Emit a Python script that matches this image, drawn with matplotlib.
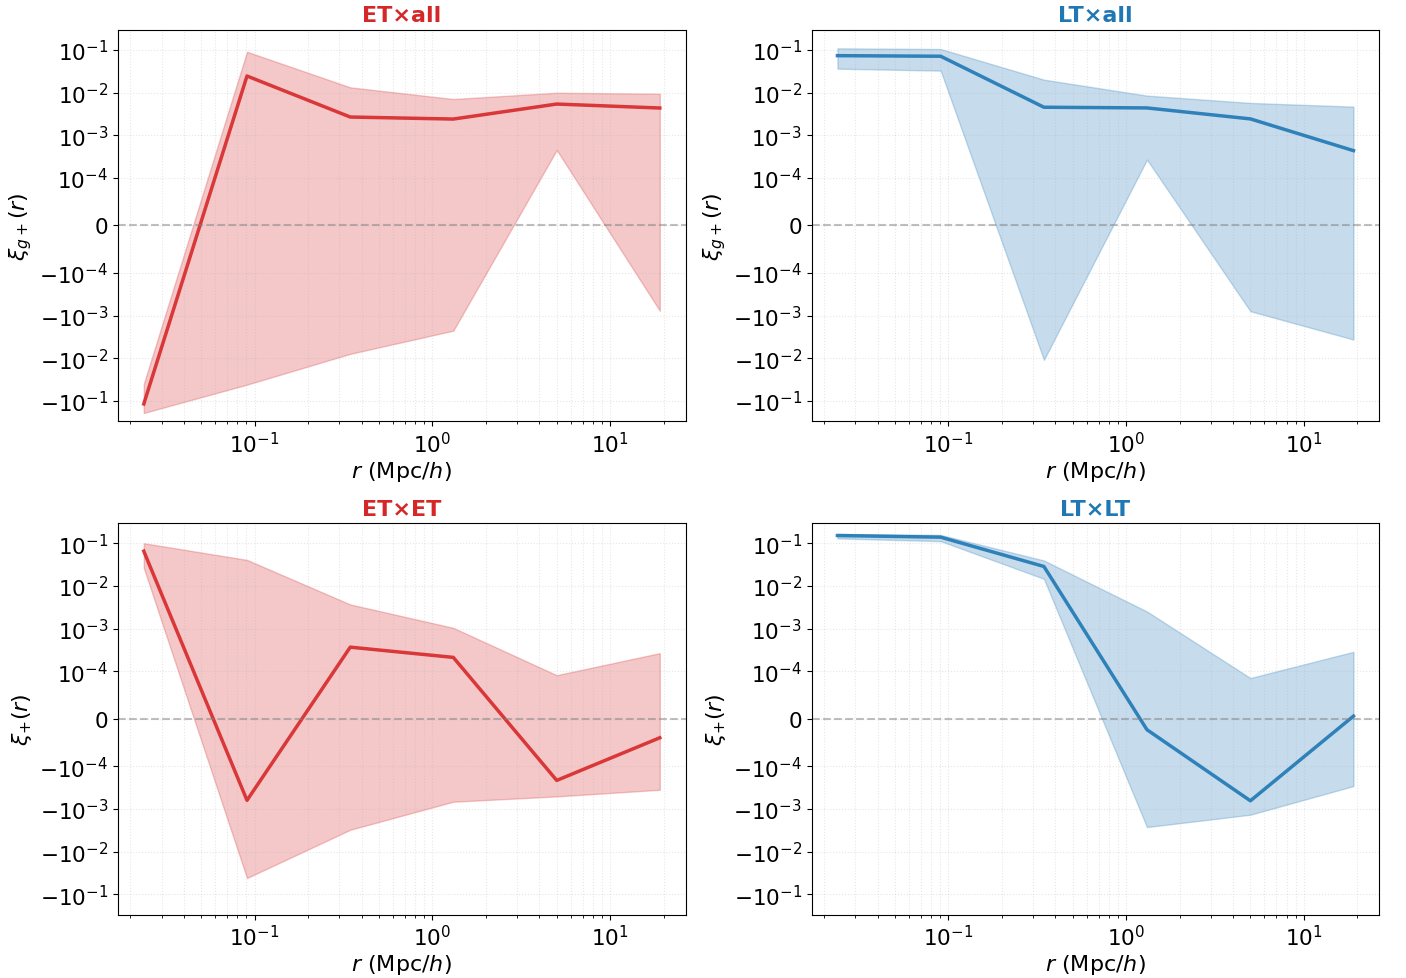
"""Correlaciones de alineamiento por tipo de galaxia (ET/LT), eje y symlog."""
import matplotlib
matplotlib.use("Agg")
import matplotlib.pyplot as plt

# separación (Mpc/h), centros de bin
r = [0.0238, 0.0906, 0.345, 1.31, 5.0, 19.0]

# ET x all  (xi_g+)
et_all = [-0.118, 0.0247, 0.0027, 0.00242, 0.00544, 0.00439]
et_all_hi = [-0.040, 0.0914, 0.0134, 0.00713, 0.0100, 0.0095]
et_all_lo = [-0.192, -0.0416, -0.0079, -0.00226, 4.55e-4, -7.7e-4]

# LT x all  (xi_g+)
lt_all = [0.0741, 0.0718, 0.00458, 0.00441, 0.00244, 4.4e-4]
lt_all_hi = [0.110, 0.106, 0.0203, 0.00857, 0.00578, 0.00473]
lt_all_lo = [0.0367, 0.0330, -0.0109, 2.71e-4, -7.9e-4, -0.00365]

# ET x ET  (xi_+)
et_et = [0.0658, -6.3e-4, 3.7e-4, 2.13e-4, -2.15e-4, -4.0e-5]
et_et_hi = [0.101, 0.0411, 0.00371, 0.00105, 9.2e-5, 2.68e-4]
et_et_lo = [0.0267, -0.0418, -0.00309, -6.8e-4, -5.1e-4, -3.57e-4]

# LT x LT  (xi_+)
lt_lt = [0.153, 0.140, 0.0288, -2.3e-5, -6.46e-4, 5.7e-6]
lt_lt_hi = [0.167, 0.158, 0.0398, 0.00254, 8.6e-5, 2.88e-4]
lt_lt_lo = [0.131, 0.113, 0.0148, -0.00267, -0.00137, -2.92e-4]

RED = "#d62728"
BLUE = "#1f77b4"

panels = [
    ("ET×all", RED, et_all, et_all_lo, et_all_hi, r"$\xi_{g+}(r)$"),
    ("LT×all", BLUE, lt_all, lt_all_lo, lt_all_hi, r"$\xi_{g+}(r)$"),
    ("ET×ET", RED, et_et, et_et_lo, et_et_hi, r"$\xi_{+}(r)$"),
    ("LT×LT", BLUE, lt_lt, lt_lt_lo, lt_lt_hi, r"$\xi_{+}(r)$"),
]

fig, axes = plt.subplots(2, 2, figsize=(14.06, 9.79), dpi=100)
fig.subplots_adjust(left=0.0839, right=0.981, top=0.9686, bottom=0.0648,
                    wspace=0.222, hspace=0.26)

for ax, (title, c, mean, lo, hi, ylab) in zip(axes.flat, panels):
    ax.fill_between(r, lo, hi, color=c, alpha=0.25)
    ax.plot(r, mean, color=c, lw=2.5, alpha=0.9)
    ax.axhline(0, color="gray", ls="--", lw=1.5, alpha=0.5)
    ax.set_xscale("log")
    ax.set_yscale("symlog", linthresh=1e-4)
    ax.set_ylim(-0.3, 0.3)
    ax.grid(True, which="both", ls=":", alpha=0.3)
    ax.set_title(title, color=c, fontsize=16, fontweight="bold")
    ax.set_xlabel(r"$r$ (Mpc/$h$)", fontsize=16, labelpad=2)
    ax.set_ylabel(ylab, fontsize=16)
    ax.tick_params(labelsize=15.5)

fig.savefig("out.png", dpi=100)
